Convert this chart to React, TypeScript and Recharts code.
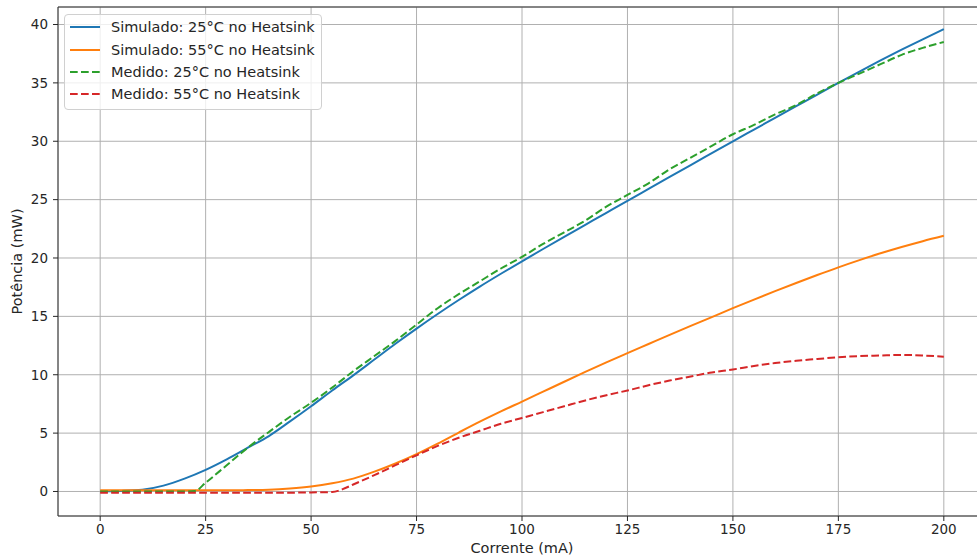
import { LineChart, Line, XAxis, YAxis, CartesianGrid, Legend, ReferenceArea } from "recharts"

// Corrente (mA) / Potência (mW)
const simCurrent = [
  0, 5, 10, 15, 20, 25, 30, 35, 40, 45, 50, 55, 60, 65, 70, 75, 80, 85, 90, 95, 100,
  105, 110, 115, 120, 125, 130, 135, 140, 145, 150, 155, 160, 165, 170, 175, 180, 185, 190, 195, 200,
]
const simPower25 = [
  0.02, 0.05, 0.15, 0.5, 1.1, 1.85, 2.75, 3.75, 4.75, 6.0, 7.3, 8.65, 9.95, 11.3, 12.65, 13.95, 15.2, 16.4, 17.55, 18.65, 19.72,
  20.77, 21.81, 22.84, 23.87, 24.9, 25.92, 26.94, 27.96, 28.98, 30.0, 31.0, 32.0, 33.0, 34.0, 35.0, 35.97, 36.92, 37.84, 38.73, 39.6,
]
const simPower55 = [
  0.1, 0.1, 0.1, 0.1, 0.1, 0.1, 0.1, 0.12, 0.15, 0.25, 0.42, 0.7, 1.1, 1.7, 2.4, 3.2, 4.1, 5.05, 5.98, 6.86, 7.7,
  8.55, 9.4, 10.24, 11.06, 11.85, 12.63, 13.41, 14.18, 14.94, 15.7, 16.44, 17.16, 17.86, 18.54, 19.2, 19.82, 20.4, 20.94, 21.44, 21.9,
]
const measCurrent25 = [
  0, 5, 10, 15, 20, 22.5, 25, 30, 35, 40, 45, 50, 55, 60, 65, 70, 75, 80, 85, 90, 95, 100,
  105, 110, 115, 120, 125, 130, 135, 140, 145, 150, 155, 160, 165, 170, 175, 180, 185, 190, 195, 200,
]
const measPower25 = [
  0, 0, 0, 0, 0, 0.05, 0.75, 2.25, 3.75, 5.1, 6.4, 7.6, 8.9, 10.3, 11.6, 12.9, 14.3, 15.7, 16.9, 18.0, 19.1, 20.1,
  21.2, 22.2, 23.2, 24.4, 25.4, 26.4, 27.6, 28.6, 29.6, 30.6, 31.4, 32.3, 33.1, 34.1, 35.0, 35.8, 36.6, 37.4, 38.0, 38.5,
]
const measCurrent55 = [
  0, 5, 10, 15, 20, 25, 30, 35, 40, 45, 50, 55, 57.5, 60, 65, 70, 75, 80, 85, 90, 95, 100,
  105, 110, 115, 120, 125, 130, 135, 140, 145, 150, 155, 160, 165, 170, 175, 180, 185, 190, 195, 200,
]
const measPower55 = [
  -0.1, -0.1, -0.1, -0.1, -0.1, -0.1, -0.1, -0.1, -0.1, -0.1, -0.08, -0.05, 0.2, 0.6, 1.4, 2.25, 3.1, 3.9, 4.6, 5.2, 5.8, 6.3,
  6.8, 7.3, 7.8, 8.25, 8.65, 9.1, 9.5, 9.85, 10.2, 10.45, 10.75, 11.0, 11.2, 11.35, 11.5, 11.6, 11.65, 11.7, 11.65, 11.55,
]

const xTicks = [0, 25, 50, 75, 100, 125, 150, 175, 200]
const yTicks = [0, 5, 10, 15, 20, 25, 30, 35, 40]

const toPoints = (xs: number[], ys: number[]) => xs.map((x, i) => ({ x, y: ys[i] }))

const series = [
  { name: "Simulado: 25°C no Heatsink", color: "#1f77b4", dashed: false, data: toPoints(simCurrent, simPower25) },
  { name: "Simulado: 55°C no Heatsink", color: "#ff7f0e", dashed: false, data: toPoints(simCurrent, simPower55) },
  { name: "Medido: 25°C no Heatsink", color: "#2ca02c", dashed: true, data: toPoints(measCurrent25, measPower25) },
  { name: "Medido: 55°C no Heatsink", color: "#d62728", dashed: true, data: toPoints(measCurrent55, measPower55) },
]

const DASH = "7.7 3.3"
const TEXT = "#262626"

function LegendBox() {
  return (
    <div
      style={{
        background: "rgba(255,255,255,0.8)",
        border: "1px solid #d0d0d0",
        borderRadius: 4,
        padding: "1px 6px 3px 5px",
        fontSize: 14.5,
        color: TEXT,
      }}
    >
      {series.map((s) => (
        <div key={s.name} style={{ display: "flex", alignItems: "center", height: 22.4, whiteSpace: "nowrap" }}>
          <svg width={30} height={4} style={{ marginRight: 11 }}>
            <line x1={0} y1={2} x2={30} y2={2} stroke={s.color} strokeWidth={2} strokeDasharray={s.dashed ? DASH : undefined} />
          </svg>
          <span>{s.name}</span>
        </div>
      ))}
    </div>
  )
}

export default function App() {
  return (
    <div
      style={{
        position: "absolute",
        left: 0,
        top: 0,
        width: 977,
        height: 558,
        overflow: "hidden",
        background: "#fff",
        fontFamily: "'DejaVu Sans', sans-serif",
      }}
    >
      <LineChart width={990} height={558} margin={{ top: 7, right: 4, bottom: 0, left: 0 }}>
        <CartesianGrid stroke="#b0b0b0" strokeWidth={1} />
        <XAxis
          type="number"
          dataKey="x"
          domain={[-10, 210]}
          ticks={xTicks}
          allowDataOverflow
          height={42}
          tickSize={5}
          tickMargin={3}
          axisLine={false}
          tickLine={{ stroke: TEXT }}
          tick={{ fill: TEXT, fontSize: 13.5 }}
          label={{ value: "Corrente (mA)", position: "insideBottom", offset: 5, style: { fill: TEXT, fontSize: 14.5 } }}
        />
        <YAxis
          type="number"
          domain={[-2.1, 41.5]}
          ticks={yTicks}
          allowDataOverflow
          width={58}
          tickSize={5}
          tickMargin={5}
          axisLine={false}
          tickLine={{ stroke: TEXT }}
          tick={{ fill: TEXT, fontSize: 13.5 }}
          label={{
            value: "Potência (mW)",
            angle: -90,
            position: "insideLeft",
            offset: 17,
            style: { textAnchor: "middle", fill: TEXT, fontSize: 14.5 },
          }}
        />
        {series.map((s) => (
          <Line
            key={s.name}
            name={s.name}
            data={s.data}
            dataKey="y"
            type="monotone"
            stroke={s.color}
            strokeWidth={2}
            strokeDasharray={s.dashed ? DASH : undefined}
            dot={false}
            activeDot={false}
            isAnimationActive={false}
          />
        ))}
        <ReferenceArea x1={-10} x2={210} y1={-2.1} y2={41.5} fill="none" stroke="#333" strokeWidth={1} />
        <Legend
          layout="vertical"
          align="center"
          verticalAlign="middle"
          wrapperStyle={{ left: 64, top: 14, width: "auto", height: "auto" }}
          content={() => <LegendBox />}
        />
      </LineChart>
    </div>
  )
}
